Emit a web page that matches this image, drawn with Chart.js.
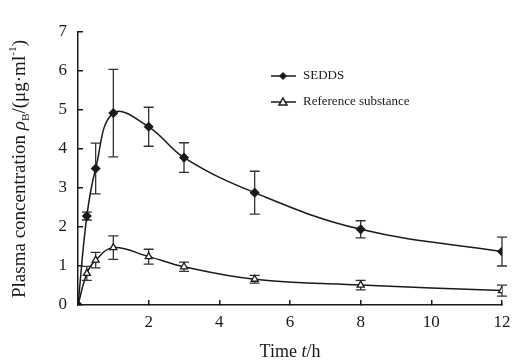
<!DOCTYPE html>
<html lang="en">
<head>
    <meta charset="UTF-8">
    <title>Plasma concentration</title>
    <script src="https://cdn.jsdelivr.net/npm/chart.js"></script>
    <style>
        body { margin: 0; background: #fff; }
        #wrap { width: 517px; height: 362px; position: relative; }
    </style>
</head>
<body>
    <div id="wrap"><canvas id="pkChart"></canvas></div>
    <script>
        // sampling times (h)
        const times = [0, 0.25, 0.5, 1, 2, 3, 5, 8, 12];
        // SEDDS mean and SD
        const sedds = [0, 2.28, 3.5, 4.92, 4.57, 3.78, 2.88, 1.94, 1.37];
        const seddsErr = [0, 0.1, 0.65, 1.12, 0.5, 0.38, 0.55, 0.22, 0.37];
        // reference substance mean and SD
        const refSub = [0, 0.81, 1.15, 1.47, 1.24, 0.98, 0.66, 0.51, 0.37];
        const refErr = [0, 0.18, 0.2, 0.3, 0.19, 0.12, 0.1, 0.12, 0.14];
        const xTicks = [0, 2, 4, 6, 8, 10, 12];
        const yTicks = [0, 1, 2, 3, 4, 5, 6, 7];

        const serif = "'Liberation Serif', 'Times New Roman', serif";
        const ink = '#1a1a1a';

        const toPts = (vals) => times.map((t, i) => ({ x: t, y: vals[i] }));

        // write a run of [text, style] pieces; style: '' | 'i' | 'sub' | 'sup'
        function drawRuns(ctx, runs, cx, cy, size) {
            const fontFor = st => (st === 'i' ? 'italic ' : '') + ((st === 'sub' || st === 'sup') ? size * 0.6 : size) + 'px ' + serif;
            let total = 0;
            runs.forEach(([t, st]) => { ctx.font = fontFor(st); total += ctx.measureText(t).width; });
            let x = cx - total / 2;
            runs.forEach(([t, st]) => {
                ctx.font = fontFor(st);
                const dy = st === 'sub' ? size * 0.3 : st === 'sup' ? -size * 0.35 : 0;
                ctx.fillText(t, x, cy + dy);
                x += ctx.measureText(t).width;
            });
        }

        // draws SD bars from the data through the chart scales
        const errorBars = {
            id: 'errorBars',
            beforeDatasetsDraw(chart) {
                const ctx = chart.ctx;
                const xs = chart.scales.x, ys = chart.scales.y;
                ctx.save();
                ctx.strokeStyle = '#333';
                ctx.lineWidth = 1.3;
                chart.data.datasets.forEach(ds => {
                    ds.data.forEach((p, i) => {
                        const e = ds.errs[i];
                        if (!e) return;
                        const px = xs.getPixelForValue(p.x);
                        const top = ys.getPixelForValue(p.y + e);
                        const bot = ys.getPixelForValue(p.y - e);
                        ctx.beginPath();
                        ctx.moveTo(px, top); ctx.lineTo(px, bot);
                        ctx.moveTo(px - 5, top); ctx.lineTo(px + 5, top);
                        ctx.moveTo(px - 5, bot); ctx.lineTo(px + 5, bot);
                        ctx.stroke();
                    });
                });
                ctx.restore();
            },
            afterDraw(chart) {
                const ctx = chart.ctx;
                ctx.save();
                ctx.strokeStyle = ink;
                ctx.fillStyle = ink;
                ctx.lineWidth = 1.5;
                ctx.textBaseline = 'middle';

                // legend inside the plot
                const rows = [[76, 'SEDDS', 'diamond'], [102, 'Reference substance', 'tri']];
                rows.forEach(([y, label, kind]) => {
                    ctx.beginPath();
                    ctx.moveTo(271, y); ctx.lineTo(296, y);
                    ctx.stroke();
                    const cx = 283;
                    ctx.beginPath();
                    if (kind === 'diamond') {
                        ctx.moveTo(cx, y - 4); ctx.lineTo(cx + 4, y);
                        ctx.lineTo(cx, y + 4); ctx.lineTo(cx - 4, y);
                        ctx.closePath();
                        ctx.fill();
                    } else {
                        ctx.moveTo(cx, y - 4); ctx.lineTo(cx + 4, y + 3);
                        ctx.lineTo(cx - 4, y + 3); ctx.closePath();
                        ctx.fillStyle = '#fff';
                        ctx.fill();
                        ctx.stroke();
                        ctx.fillStyle = ink;
                    }
                    ctx.font = '13px ' + serif;
                    ctx.fillText(label, 303, y);
                });

                // axis titles
                drawRuns(ctx, [['Time ', ''], ['t', 'i'], ['/h', '']], 290, 352, 18);
                ctx.translate(20, 169);
                ctx.rotate(-Math.PI / 2);
                drawRuns(ctx, [['Plasma concentration ', ''], ['ρ', 'i'], ['B', 'sub'],
                    ['/(μg·ml', ''], ['-1', 'sup'], [')', '']], 0, 0, 19);
                ctx.restore();
            }
        };

        const ctx = document.getElementById('pkChart').getContext('2d');
        new Chart(ctx, {
            type: 'line',
            data: {
                datasets: [{
                    label: 'SEDDS',
                    data: toPts(sedds),
                    errs: seddsErr,
                    borderColor: ink,
                    borderWidth: 1.5,
                    pointStyle: 'rectRot',
                    pointRadius: 4,
                    pointBackgroundColor: ink,
                    pointBorderColor: ink,
                    tension: 0.4
                }, {
                    label: 'Reference substance',
                    data: toPts(refSub),
                    errs: refErr,
                    borderColor: ink,
                    borderWidth: 1.5,
                    pointStyle: 'triangle',
                    pointRadius: 4,
                    pointBackgroundColor: '#fff',
                    pointBorderColor: ink,
                    pointBorderWidth: 1.3,
                    tension: 0.4
                }]
            },
            options: {
                responsive: true,
                maintainAspectRatio: false,
                animation: false,
                layout: { padding: { top: 32, right: 15, left: 0, bottom: 0 } },
                plugins: {
                    legend: { display: false },
                    tooltip: { enabled: false }
                },
                scales: {
                    x: {
                        type: 'linear',
                        min: 0, max: 12,
                        afterBuildTicks: s => { s.ticks = xTicks.map(v => ({ value: v })); },
                        afterFit: s => { s.height = 57; s.paddingLeft = 0; s.paddingRight = 0; },
                        ticks: {
                            color: ink,
                            padding: 12,
                            font: { family: serif, size: 17 },
                            callback: v => v === 0 ? '' : v
                        },
                        // negative length puts the tick marks inside the plot
                        grid: { drawOnChartArea: false, drawTicks: true, tickLength: -5, color: ink, lineWidth: 1.5 },
                        border: { color: ink, width: 1.5 }
                    },
                    y: {
                        min: 0, max: 7,
                        afterBuildTicks: s => { s.ticks = yTicks.map(v => ({ value: v })); },
                        afterFit: s => { s.width = 78; s.paddingTop = 0; s.paddingBottom = 0; },
                        ticks: {
                            color: ink,
                            padding: 16,
                            font: { family: serif, size: 17 }
                        },
                        grid: { drawOnChartArea: false, drawTicks: true, tickLength: -5, color: ink, lineWidth: 1.5 },
                        border: { color: ink, width: 1.5 }
                    }
                }
            },
            plugins: [errorBars]
        });
    </script>
</body>
</html>
